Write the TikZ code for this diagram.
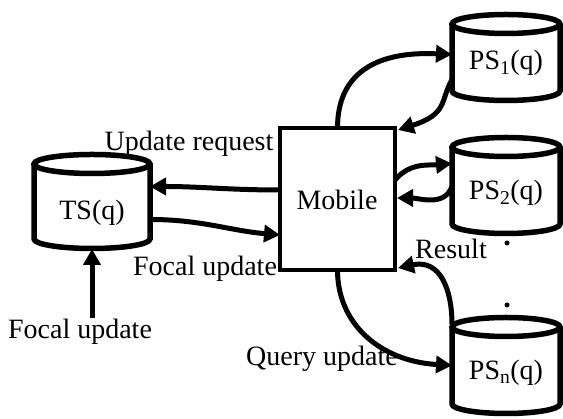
\documentclass[tikz,border=0pt]{standalone}
\usepackage{fontspec}
\setmainfont{Liberation Serif}
\usetikzlibrary{arrows.meta,calc}
\newcommand\cylshape[4]{%
  \draw[cylline] (#1-#4,#2) -- (#1-#4,#3) arc[start angle=180,end angle=360,x radius=#4,y radius=9.5] -- (#1+#4,#2);
  \draw[cylline] (#1,#2) ellipse[x radius=#4,y radius=9.5];}
\begin{document}
\begin{tikzpicture}[x=1pt,y=1pt,
  every node/.style={font=\fontsize{28}{30}\selectfont, inner sep=0pt, outer sep=0pt},
  cylline/.style={line width=5.5pt, fill=white},
  body/.style={minimum width=#1, draw=none},
  conn/.style={line width=5pt, -{Triangle[length=16pt,width=17pt]}}]
\useasboundingbox[fill=white] (0,0) rectangle (563,419);
% cylinders
\cylshape{506}{395}{328}{54}
\cylshape{506}{272}{195}{54}
\cylshape{506}{92}{15}{54}
\cylshape{92}{255}{180}{58}
\node[body=108pt, minimum height=67pt] (ps1) at (506,361.5) {};
\node[body=108pt, minimum height=77pt] (ps2) at (506,233.5) {};
\node[body=108pt, minimum height=77pt] (psn) at (506,53.5) {};
\node[body=116pt, minimum height=75pt] (ts) at (92,217.5) {};
\node (ps1t) at (506,356) {PS\textsubscript{1}(q)};
\node (ps2t) at (506,226) {PS\textsubscript{2}(q)};
\node (psnt) at (506,46) {PS\textsubscript{n}(q)};
\node (tst) at (92,206) {TS(q)};
% mobile
\node[draw, line width=4.5pt, fill=white, minimum width=115pt, minimum height=142pt] (mobile) at (337.5,220) {};
\node (mobt) at (337,219) {Mobile};
% labels
\node (lur) at (189,275.5) {Update request};
\node (lfu1) at (205,150) {Focal update};
\node (lfu2) at (80,87) {Focal update};
\node (lres) at (451,170) {Result};
\node (lqu) at (322,60) {Query update};
\fill (507,176) circle (2.5);
\fill (507,114) circle (2.5);
% connectors
\draw[conn] ([yshift=9pt]mobile.west) to[out=180,in=0] ([yshift=15pt]ts.east);
\draw[conn] ([yshift=-18pt]ts.east) to[out=0,in=175] ([yshift=-36pt]mobile.west);
\coordinate (fu) at (92,101);
\draw[conn] (fu) -- ([yshift=-10pt]ts.south);
\draw[conn] (mobile.north) .. controls (337.5,345) and (375,368) .. ([yshift=3pt]ps1.west);
\draw[conn] ([yshift=-22pt]ps1.west) .. controls (440,318) and (448,305) .. ([xshift=3pt,yshift=-2pt]mobile.north east);
\draw[conn] ([yshift=19pt]mobile.east) to[out=50,in=185] ([yshift=22pt]ps2.west);
\draw[conn] ([yshift=-1pt]ps2.west) to[out=-110,in=0] ([xshift=2pt,yshift=1pt]mobile.east);
\draw[conn] ([yshift=41pt]psn.west) .. controls (452,130) and (440,160) .. ([xshift=3pt,yshift=2pt]mobile.south east);
\draw[conn] (mobile.south) .. controls (337.5,95) and (380,58) .. (psn.west);
\end{tikzpicture}
\end{document}
